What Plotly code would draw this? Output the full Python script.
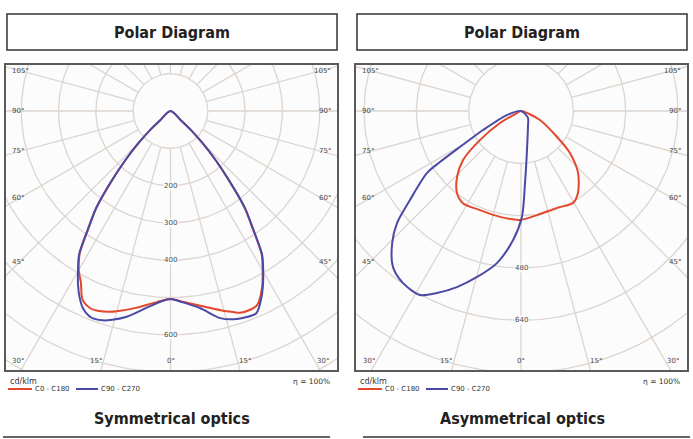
import numpy as np
import plotly.graph_objects as go

W, H = 693, 439

# ---- luminous intensity curves, cd/klm vs gamma (deg) ----
# negative gamma = C180 / C270 half, positive = C0 / C90 half, listed in drawing order
sym_c0_gamma = [-49, -48, -47, -45, -42.5, -40, -37.5, -35, -32.5, -30, -27.5, -25, -22, -20, -17, -15, -10, -4, 0,
                4, 10, 15, 17, 19, 22, 24, 25, 27.5, 30, 32.5, 35, 37.5, 40, 42.5, 45, 47, 48, 49]
sym_c0_I = [0, 40, 75, 120, 179, 248, 325, 382, 453, 492, 520, 558, 571, 570, 563, 556, 536, 513, 504,
            513, 533, 555, 563, 572, 574, 570, 562, 532, 494, 455, 384, 326, 246, 180, 120, 75, 40, 0]

sym_c90_gamma = [-49, -48, -47, -45, -42.5, -40, -37.5, -35, -32.5, -30, -28, -26, -24, -21, -18, -16, -12, -7, -3, 0,
                 3, 8.5, 13.5, 17, 19.5, 23, 26, 28, 30, 32.5, 35, 37.5, 40, 42.5, 45, 47, 48, 49]
sym_c90_I = [0, 40, 76, 122, 181, 250, 327, 385, 456, 496, 528, 556, 578, 593, 590, 583, 564, 532, 512, 504,
             512, 534, 571, 584, 588, 589, 556, 528, 497, 457, 386, 328, 248, 181, 121, 76, 40, 0]

asym_c0_gamma = [80, 64.6, 54.2, 49.4, 42.6, 34.8, 29.5, 20.4, 8.7, -0.5, -11.2, -22.5, -32.2, -38, -44.1,
                 -49.8, -54.7, -60.3, -63, -65]
asym_c0_I = [0, 64, 136, 197, 258, 305, 323, 316, 322, 333, 330, 328, 333, 318, 281,
             232, 154, 74, 14, 0]

asym_c90_gamma = [-80, -74, -63.4, -59.5, -57.8, -56.6, -51.3, -47.9, -44.3, -39.4, -34.5, -28.8, -24.8, -20,
                  -14.8, -9, -3.5, 0.5, 3.2, 8.7, 26.6, 45, 60]
asym_c90_I = [0, 45, 130, 217, 293, 344, 435, 511, 564, 617, 638, 642, 613, 573,
              525, 471, 395, 324, 220, 121, 48, 30, 0]

# grid rings and labels
sym_rings = [100, 200, 300, 400, 500, 600, 700, 800, 900, 1000]
sym_ring_labels = [200, 300, 400, 600]
asym_rings = [160, 320, 480, 640, 800, 960, 1120]
asym_ring_labels = [480, 640]
side_angles = [45, 60, 75, 90, 105]
bottom_angles = [15, 30]

legend_names = ["C0 - C180", "C90 - C270"]
captions = ["Symmetrical optics", "Asymmetrical optics"]

RED = "#e4472b"
BLUE = "#4a4aa6"
GRID = "#dcd5d0"
LBL = "#4a4a4a"
SMALL = "DejaVu Sans"
BOLD = "Liberation Sans Narrow, DejaVu Sans Condensed, Arial Narrow, sans-serif"

# panel geometry in pixels: box, polar centre, px per cd/klm
panels = [
    dict(x0=6, x1=337, y0=65, y1=370, cx=170.5, cy=111, s=0.373,
         curves=[(sym_c0_gamma, sym_c0_I), (sym_c90_gamma, sym_c90_I)],
         rings=sym_rings, ring_labels=sym_ring_labels),
    dict(x0=356, x1=687, y0=65, y1=370, cx=521, cy=111, s=0.327,
         curves=[(asym_c0_gamma, asym_c0_I), (asym_c90_gamma, asym_c90_I)],
         rings=asym_rings, ring_labels=asym_ring_labels),
]


def pol(g, i):
    g = np.radians(np.array(g, dtype=float))
    i = np.array(i, dtype=float)
    return i * np.sin(g), -i * np.cos(g)


def px(x, y):
    return x / W, 1 - y / H


fig = go.Figure()
layout = dict(width=W, height=H, margin=dict(l=0, r=0, t=0, b=0),
              paper_bgcolor="white", plot_bgcolor="#fcfcfc", showlegend=False)
shapes = []
annotations = []

for k, p in enumerate(panels):
    sfx = "" if k == 0 else str(k + 1)
    xa, ya = "x" + sfx, "y" + sfx
    s = p["s"]
    layout["xaxis" + sfx] = dict(domain=[p["x0"] / W, p["x1"] / W],
                                 range=[(p["x0"] - p["cx"]) / s, (p["x1"] - p["cx"]) / s],
                                 showgrid=False, zeroline=False, showticklabels=False, ticks="",
                                 showline=True, mirror=True, linecolor="#5a5a5a", linewidth=2,
                                 fixedrange=True, anchor=ya)
    layout["yaxis" + sfx] = dict(domain=[1 - p["y1"] / H, 1 - p["y0"] / H],
                                 range=[-(p["y1"] - p["cy"]) / s, (p["cy"] - p["y0"]) / s],
                                 showgrid=False, zeroline=False, showticklabels=False, ticks="",
                                 showline=True, mirror=True, linecolor="#5a5a5a", linewidth=2,
                                 fixedrange=True, anchor=xa)

    # polar grid: rings + radial spokes every 15 deg
    t = np.linspace(0, 2 * np.pi, 241)
    gx, gy = [], []
    for r in p["rings"]:
        gx += list(r * np.cos(t)) + [None]
        gy += list(r * np.sin(t)) + [None]
    r0 = p["rings"][0]
    for a in range(0, 360, 15):
        ax_, ay_ = pol([a, a], [r0, 3000])
        gx += list(ax_) + [None]
        gy += list(ay_) + [None]
    fig.add_trace(go.Scatter(x=gx, y=gy, mode="lines", line=dict(color=GRID, width=1.3),
                             hoverinfo="skip", xaxis=xa, yaxis=ya))

    # curves
    for (g, i), col in zip(p["curves"], [RED, BLUE]):
        cx_, cy_ = pol(g, i)
        fig.add_trace(go.Scatter(x=cx_, y=cy_, mode="lines",
                                 line=dict(color=col, width=2, shape="spline", smoothing=0.8),
                                 xaxis=xa, yaxis=ya))

    # ring labels on the nadir line
    for v in p["ring_labels"]:
        annotations.append(dict(x=0, y=-v, xref=xa, yref=ya, text=str(v), showarrow=False,
                                font=dict(family=SMALL, size=7, color=LBL), bgcolor="#fcfcfc",
                                borderpad=0))

    # angle labels along box edges
    for a in side_angles:
        dy = (p["cx"] - p["x0"] - 14) / np.tan(np.radians(a))
        yl = p["cy"] + dy
        for side in (-1, 1):
            xl = p["x0"] + 4 if side < 0 else p["x1"] - 4
            annotations.append(dict(x=px(xl, yl)[0], y=px(xl, yl)[1], xref="paper", yref="paper",
                                    text=f"{a}°", showarrow=False,
                                    xanchor="left" if side < 0 else "right", yanchor="middle",
                                    font=dict(family=SMALL, size=7, color=LBL)))
    yb = p["y1"] - 9
    annotations.append(dict(x=px(p["cx"], yb)[0], y=px(p["cx"], yb)[1], xref="paper", yref="paper",
                            text="0°", showarrow=False, xanchor="center", yanchor="middle",
                            font=dict(family=SMALL, size=7, color=LBL)))
    for a in bottom_angles:
        dx = (yb - p["cy"]) * np.tan(np.radians(a))
        for side in (-1, 1):
            xl = p["cx"] + side * dx
            annotations.append(dict(x=px(xl, yb)[0], y=px(xl, yb)[1], xref="paper", yref="paper",
                                    text=f"{a}°", showarrow=False,
                                    xanchor="right" if side < 0 else "left", yanchor="middle",
                                    font=dict(family=SMALL, size=7, color=LBL)))

    # title box
    bx0, bx1 = p["x0"] + 1, p["x1"]
    shapes.append(dict(type="rect", xref="paper", yref="paper",
                       x0=px(bx0, 0)[0], x1=px(bx1, 0)[0], y0=px(0, 50)[1], y1=px(0, 14)[1],
                       line=dict(color="#333333", width=1.5), fillcolor="white"))
    mx = (bx0 + bx1) / 2
    annotations.append(dict(x=px(mx, 32)[0], y=px(mx, 32)[1], xref="paper", yref="paper",
                            text="<b>Polar Diagram</b>", showarrow=False, xanchor="center", yanchor="middle",
                            font=dict(family=BOLD, size=16, color="#222222")))

    # legend below the box
    ox = p["x0"] - 6
    annotations.append(dict(x=px(ox + 8, 381)[0], y=px(0, 381)[1], xref="paper", yref="paper",
                            text="cd/klm", showarrow=False, xanchor="left", yanchor="middle",
                            font=dict(family=SMALL, size=8, color="#333333")))
    for (lx0, lx1), col, name in zip([(8, 32), (76, 98)], [RED, BLUE], legend_names):
        shapes.append(dict(type="line", xref="paper", yref="paper",
                           x0=px(ox + lx0, 0)[0], x1=px(ox + lx1, 0)[0], y0=px(0, 389)[1], y1=px(0, 389)[1],
                           line=dict(color=col, width=2)))
        annotations.append(dict(x=px(ox + lx1 + 1, 0)[0], y=px(0, 389)[1], xref="paper", yref="paper",
                                text=name, showarrow=False, xanchor="left", yanchor="middle",
                                font=dict(family=SMALL, size=7, color="#333333")))
    annotations.append(dict(x=px(p["x1"] - 5, 0)[0], y=px(0, 381)[1], xref="paper", yref="paper",
                            text="η = 100%", showarrow=False, xanchor="right", yanchor="middle",
                            font=dict(family=SMALL, size=7.5, color="#333333")))

    # caption with underline
    ux0, ux1 = (3, 330) if k == 0 else (363, 690)
    shapes.append(dict(type="line", xref="paper", yref="paper",
                       x0=px(ux0, 0)[0], x1=px(ux1, 0)[0], y0=px(0, 437)[1], y1=px(0, 437)[1],
                       line=dict(color="#333333", width=1.5)))
    annotations.append(dict(x=px(mx, 418)[0], y=px(0, 418)[1], xref="paper", yref="paper",
                            text=f"<b>{captions[k]}</b>", showarrow=False, xanchor="center", yanchor="middle",
                            font=dict(family=BOLD, size=16, color="#222222")))

layout["shapes"] = shapes
layout["annotations"] = annotations
fig.update_layout(**layout)

# page body has a default 8px margin; drop it so the figure sits at the window origin
fig.write_html("out.html", config={"displayModeBar": False},
               post_script="document.body.style.margin='0';")
